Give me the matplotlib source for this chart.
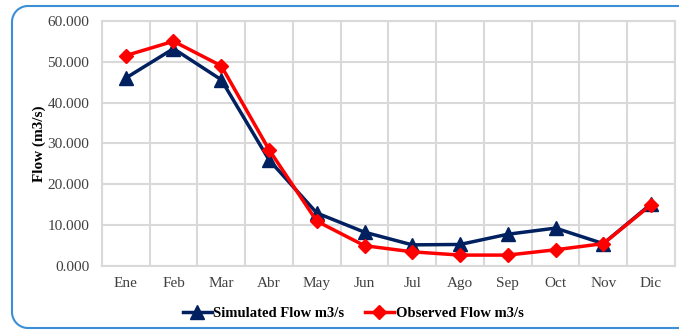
import numpy as np
import matplotlib.pyplot as plt
from matplotlib.path import Path
from matplotlib.patches import PathPatch
from matplotlib.ticker import FuncFormatter

months=["Ene","Feb","Mar","Abr","May","Jun","Jul","Ago","Sep","Oct","Nov","Dic"]
simulated=[46.0,53.2,45.6,26.0,13.0,8.3,5.2,5.3,7.8,9.3,5.5,15.2]
observed=[51.5,55.0,49.0,28.5,11.0,5.0,3.5,2.7,2.7,4.0,5.5,15.0]

plt.rcParams["font.family"]=["Liberation Serif","DejaVu Serif"]

fig=plt.figure(figsize=(6.79,3.31),dpi=100)
ax=fig.add_axes([0.150,0.196,0.844,0.741])

# open frame: top and bottom lines run off the right edge, left corners rounded (inches)
left,bottom,top,r=0.12,0.03,3.25,0.16
t=np.linspace(0,np.pi/2,20)
top_arc=np.column_stack([left+r-r*np.sin(t),top-r+r*np.cos(t)])
bot_arc=np.column_stack([left+r-r*np.cos(t),bottom+r-r*np.sin(t)])
pts=np.vstack([[[7.5,top]],top_arc,bot_arc,[[7.5,bottom]]])
frame=PathPatch(Path(pts),transform=fig.dpi_scale_trans,fill=False,edgecolor="#3a8fd6",linewidth=1.5,clip_on=False)
fig.add_artist(frame)

x=list(range(len(months)))
ax.plot(x,simulated,color="#002060",linewidth=2.5,marker="^",markersize=9.5,label="Simulated Flow m3/s",zorder=3)
ax.plot(x,observed,color="#ff0000",linewidth=2.5,marker="D",markersize=7,label="Observed Flow m3/s",zorder=4)

ax.set_xlim(-0.5,11.5)
ax.set_ylim(0,60)
ax.set_yticks(range(0,61,10))
ax.yaxis.set_major_formatter(FuncFormatter(lambda v,p:f"{v:.3f}"))
ax.set_xticks(x)
ax.set_xticklabels(months)
ax.set_xticks([i-0.5 for i in range(13)],minor=True)
ax.grid(True,axis="y",color="#d9d9d9",linewidth=1.5)
ax.grid(True,axis="x",which="minor",color="#d9d9d9",linewidth=1.5)
ax.tick_params(axis="both",which="both",length=0,labelsize=11,colors="#404040")
ax.tick_params(axis="x",pad=8)
ax.tick_params(axis="y",pad=9)
for s in ax.spines.values():
    s.set_color("#d9d9d9")
    s.set_linewidth(1.5)
ax.set_axisbelow(True)
ax.set_ylabel("Flow (m3/s)",fontsize=11,fontweight="bold",labelpad=1)

leg=fig.legend(loc="center",bbox_to_anchor=(0.52,0.052),ncol=2,frameon=False,
               prop={"weight":"bold","size":10.5},handlelength=2.0,columnspacing=1.4,handletextpad=0.1)

fig.savefig("out.png",dpi=100)
